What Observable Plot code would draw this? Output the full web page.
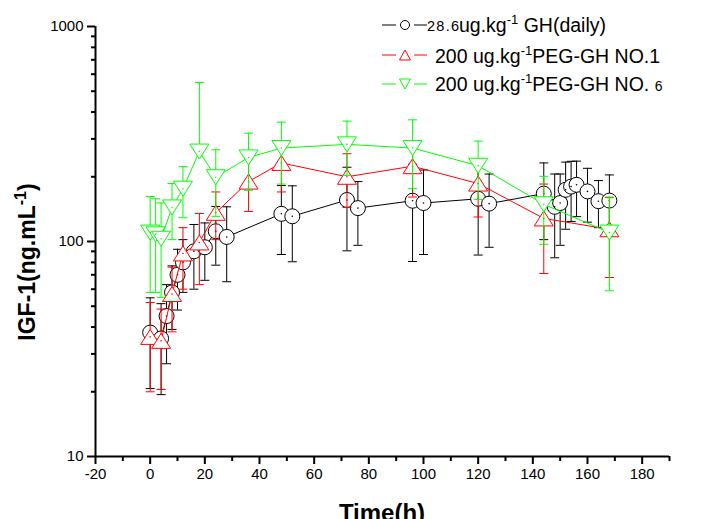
<!DOCTYPE html>
<html><head><meta charset="utf-8">
<script src="https://cdn.jsdelivr.net/npm/d3@7"></script>
<script src="https://cdn.jsdelivr.net/npm/@observablehq/plot@0.6"></script>
<style>
body{margin:0;background:#fff;}
#wrap{width:709px;height:519px;overflow:hidden;}
</style></head><body><div id="wrap"></div>
<script>
// GH daily (black circles)
const ghTime = [0,4,6,8,10,12,16,20,24,28,48,52,72,76,96,100,120,124,144,148,150,152,154,156,160,164,168];
const ghMean = [37.7,35.4,45,58,70,80,90,94,111.6,105,134.5,131,156,143,154.7,151,158,150,167,145,151,174,180,183.5,171,154,155];
const ghSD   = [17,16,18,19,22,22,30,28,34,40,47.5,50.5,65.5,47,74,64,71.5,56,65,61,55,60,56,53,48,38,49];
// PEG-GH NO.1 (red up triangles)
const p1Time = [0,4,8,12,18,24,36,48,72,96,120,144,168];
const p1Mean = [36,34.5,57,88,99,136,190,232,200,224,186,128,114];
const p1SD   = [16,14,19,28,36,34,52,62,56,63,56,57,46];
// PEG-GH NO.6 (green down triangles)
const p6Time = [0,2,4,8,12,18,24,36,48,72,96,120,144,168];
const p6Mean = [110,108,103,144,176,262,199,246,272,283,272,225,149,110];
const p6SD   = [52,50,48,42,47,287,68,73,87,80,96,68,52,51];

const xMajor = [-20,0,20,40,60,80,100,120,140,160,180];
const xMinor = [-10,10,30,50,70,90,110,130,150,170,190];
const yMajor = [10,100,1000];
const yMinor = [20,30,40,50,60,70,80,90,200,300,400,500,600,700,800,900];

function rows(t, m, s) {
  return t.map((d, i) => ({t: d, mean: m[i], lo: m[i] - s[i], hi: m[i] + s[i]}));
}
const gh = rows(ghTime, ghMean, ghSD);
const p1 = rows(p1Time, p1Mean, p1SD);
const p6 = rows(p6Time, p6Mean, p6SD);

const capSym = {draw(c){c.moveTo(-4.5,0); c.lineTo(4.5,0);}};
const upTri = {draw(c){c.moveTo(0,-7.5); c.lineTo(9.5,7.5); c.lineTo(-9.5,7.5); c.closePath();}};
const downTri = {draw(c){c.moveTo(0,7.5); c.lineTo(9.5,-7.5); c.lineTo(-9.5,-7.5); c.closePath();}};

function seriesMarks(data, color, symbol, r) {
  return [
    Plot.ruleX(data, {x: "t", y1: d => d.lo > 0 ? d.lo : d.mean, y2: "hi", stroke: color, strokeWidth: 1}),
    Plot.dot(data, {x: "t", y: "hi", symbol: capSym, r: 3, fill: "none", stroke: color, strokeWidth: 1}),
    Plot.dot(data.filter(d => d.lo > 0), {x: "t", y: "lo", symbol: capSym, r: 3, fill: "none", stroke: color, strokeWidth: 1}),
    Plot.line(data, {x: "t", y: "mean", stroke: color, strokeWidth: 1}),
    Plot.dot(data, {x: "t", y: "mean", symbol, r, fill: "white", stroke: color, strokeWidth: 1}),
    Plot.dot(data, {x: "t", y: "mean", r: 0.8, fill: color, stroke: null})
  ];
}

const plot = Plot.plot({
  width: 709, height: 519,
  marginLeft: 95, marginRight: 40, marginTop: 26, marginBottom: 63,
  x: {domain: [-20, 190]},
  y: {type: "log", domain: [10, 1000]},
  style: {fontFamily: "'Liberation Sans', Arial, sans-serif", fontSize: "15px", color: "black", background: "white"},
  marks: [
    Plot.axisX({ticks: xMajor, tickSize: 8, tickPadding: 4, tickFormat: d => String(d), label: null, strokeWidth: 2}),
    Plot.axisX({ticks: xMinor, tickSize: 5, tickFormat: () => "", label: null, strokeWidth: 2}),
    Plot.axisY({ticks: yMajor, tickSize: 8, tickPadding: 4, tickFormat: d => String(d), label: null, strokeWidth: 2}),
    Plot.axisY({ticks: yMinor, tickSize: 4, tickFormat: () => "", label: null, strokeWidth: 2}),
    Plot.ruleY([10], {strokeWidth: 2}),
    Plot.ruleX([-20], {strokeWidth: 2}),
    ...seriesMarks(gh, "black", "circle", 7.5),
    ...seriesMarks(p1, "#ff0000", upTri, 7),
    ...seriesMarks(p6, "#00ff00", downTri, 7)
  ]
});

const svg = d3.select(plot);
const FONT = "'Liberation Sans', Arial, sans-serif";
// Axis titles
const yl = svg.append("text")
  .attr("transform", "translate(35,262) rotate(-90)")
  .attr("text-anchor", "middle")
  .attr("font-weight", "bold").attr("font-size", 23)
  .attr("font-family", FONT).attr("fill", "black");
yl.append("tspan").text("IGF-1(ng.mL");
yl.append("tspan").attr("dy", -9).attr("font-size", 16).text("-1");
yl.append("tspan").attr("dy", 9).text(")");

svg.append("text")
  .attr("x", 382).attr("y", 521)
  .attr("text-anchor", "middle")
  .attr("font-weight", "bold").attr("font-size", 24)
  .attr("font-family", FONT).attr("fill", "black")
  .text("Time(h)");

// Legend
const lg = svg.append("g")
  .attr("font-family", FONT).attr("fill", "black")
  .attr("text-anchor", "start").attr("style", "text-anchor:start");
const legendRows = [
  {color: "black", y: 25, sym: "circle"},
  {color: "#ff0000", y: 55, sym: "up"},
  {color: "#00ff00", y: 84, sym: "down"}
];
legendRows.forEach(r => {
  lg.append("line").attr("x1", 382).attr("x2", 396).attr("y1", r.y).attr("y2", r.y)
    .attr("stroke", r.color).attr("stroke-width", 1);
  lg.append("line").attr("x1", 414).attr("x2", 427).attr("y1", r.y).attr("y2", r.y)
    .attr("stroke", r.color).attr("stroke-width", 1);
  let p;
  if (r.sym === "circle") {
    p = lg.append("circle").attr("cx", 405).attr("cy", r.y).attr("r", 4.5);
  } else if (r.sym === "up") {
    p = lg.append("path").attr("d", `M405,${r.y-5}L410.5,${r.y+5}L399.5,${r.y+5}Z`);
  } else {
    p = lg.append("path").attr("d", `M405,${r.y+5}L410.5,${r.y-5}L399.5,${r.y-5}Z`);
  }
  p.attr("fill", "white").attr("stroke", r.color).attr("stroke-width", 1);
});
function ltext(x, y, size) {
  return lg.append("text").attr("x", x).attr("y", y).attr("font-size", size)
    .attr("text-anchor", "start").attr("style", "text-anchor:start");
}
ltext(427, 31, 14.5).attr("textLength", 32).text("28.6");
const t1 = ltext(459, 32, 19.5);
t1.append("tspan").text("ug.kg");
t1.append("tspan").attr("dy", -8).attr("font-size", 13).text("-1");
t1.append("tspan").attr("dy", 8).text(" GH(daily)");
const t2 = ltext(435, 63, 19.5);
t2.append("tspan").text("200 ug.kg");
t2.append("tspan").attr("dy", -8).attr("font-size", 13).text("-1");
t2.append("tspan").attr("dy", 8).text("PEG-GH NO.1");
const t3 = ltext(435, 91, 19.5);
t3.append("tspan").text("200 ug.kg");
t3.append("tspan").attr("dy", -8).attr("font-size", 13).text("-1");
t3.append("tspan").attr("dy", 8).text("PEG-GH NO. ");
t3.append("tspan").attr("font-size", 14).text("6");

document.getElementById("wrap").appendChild(plot);
</script>
</body></html>
